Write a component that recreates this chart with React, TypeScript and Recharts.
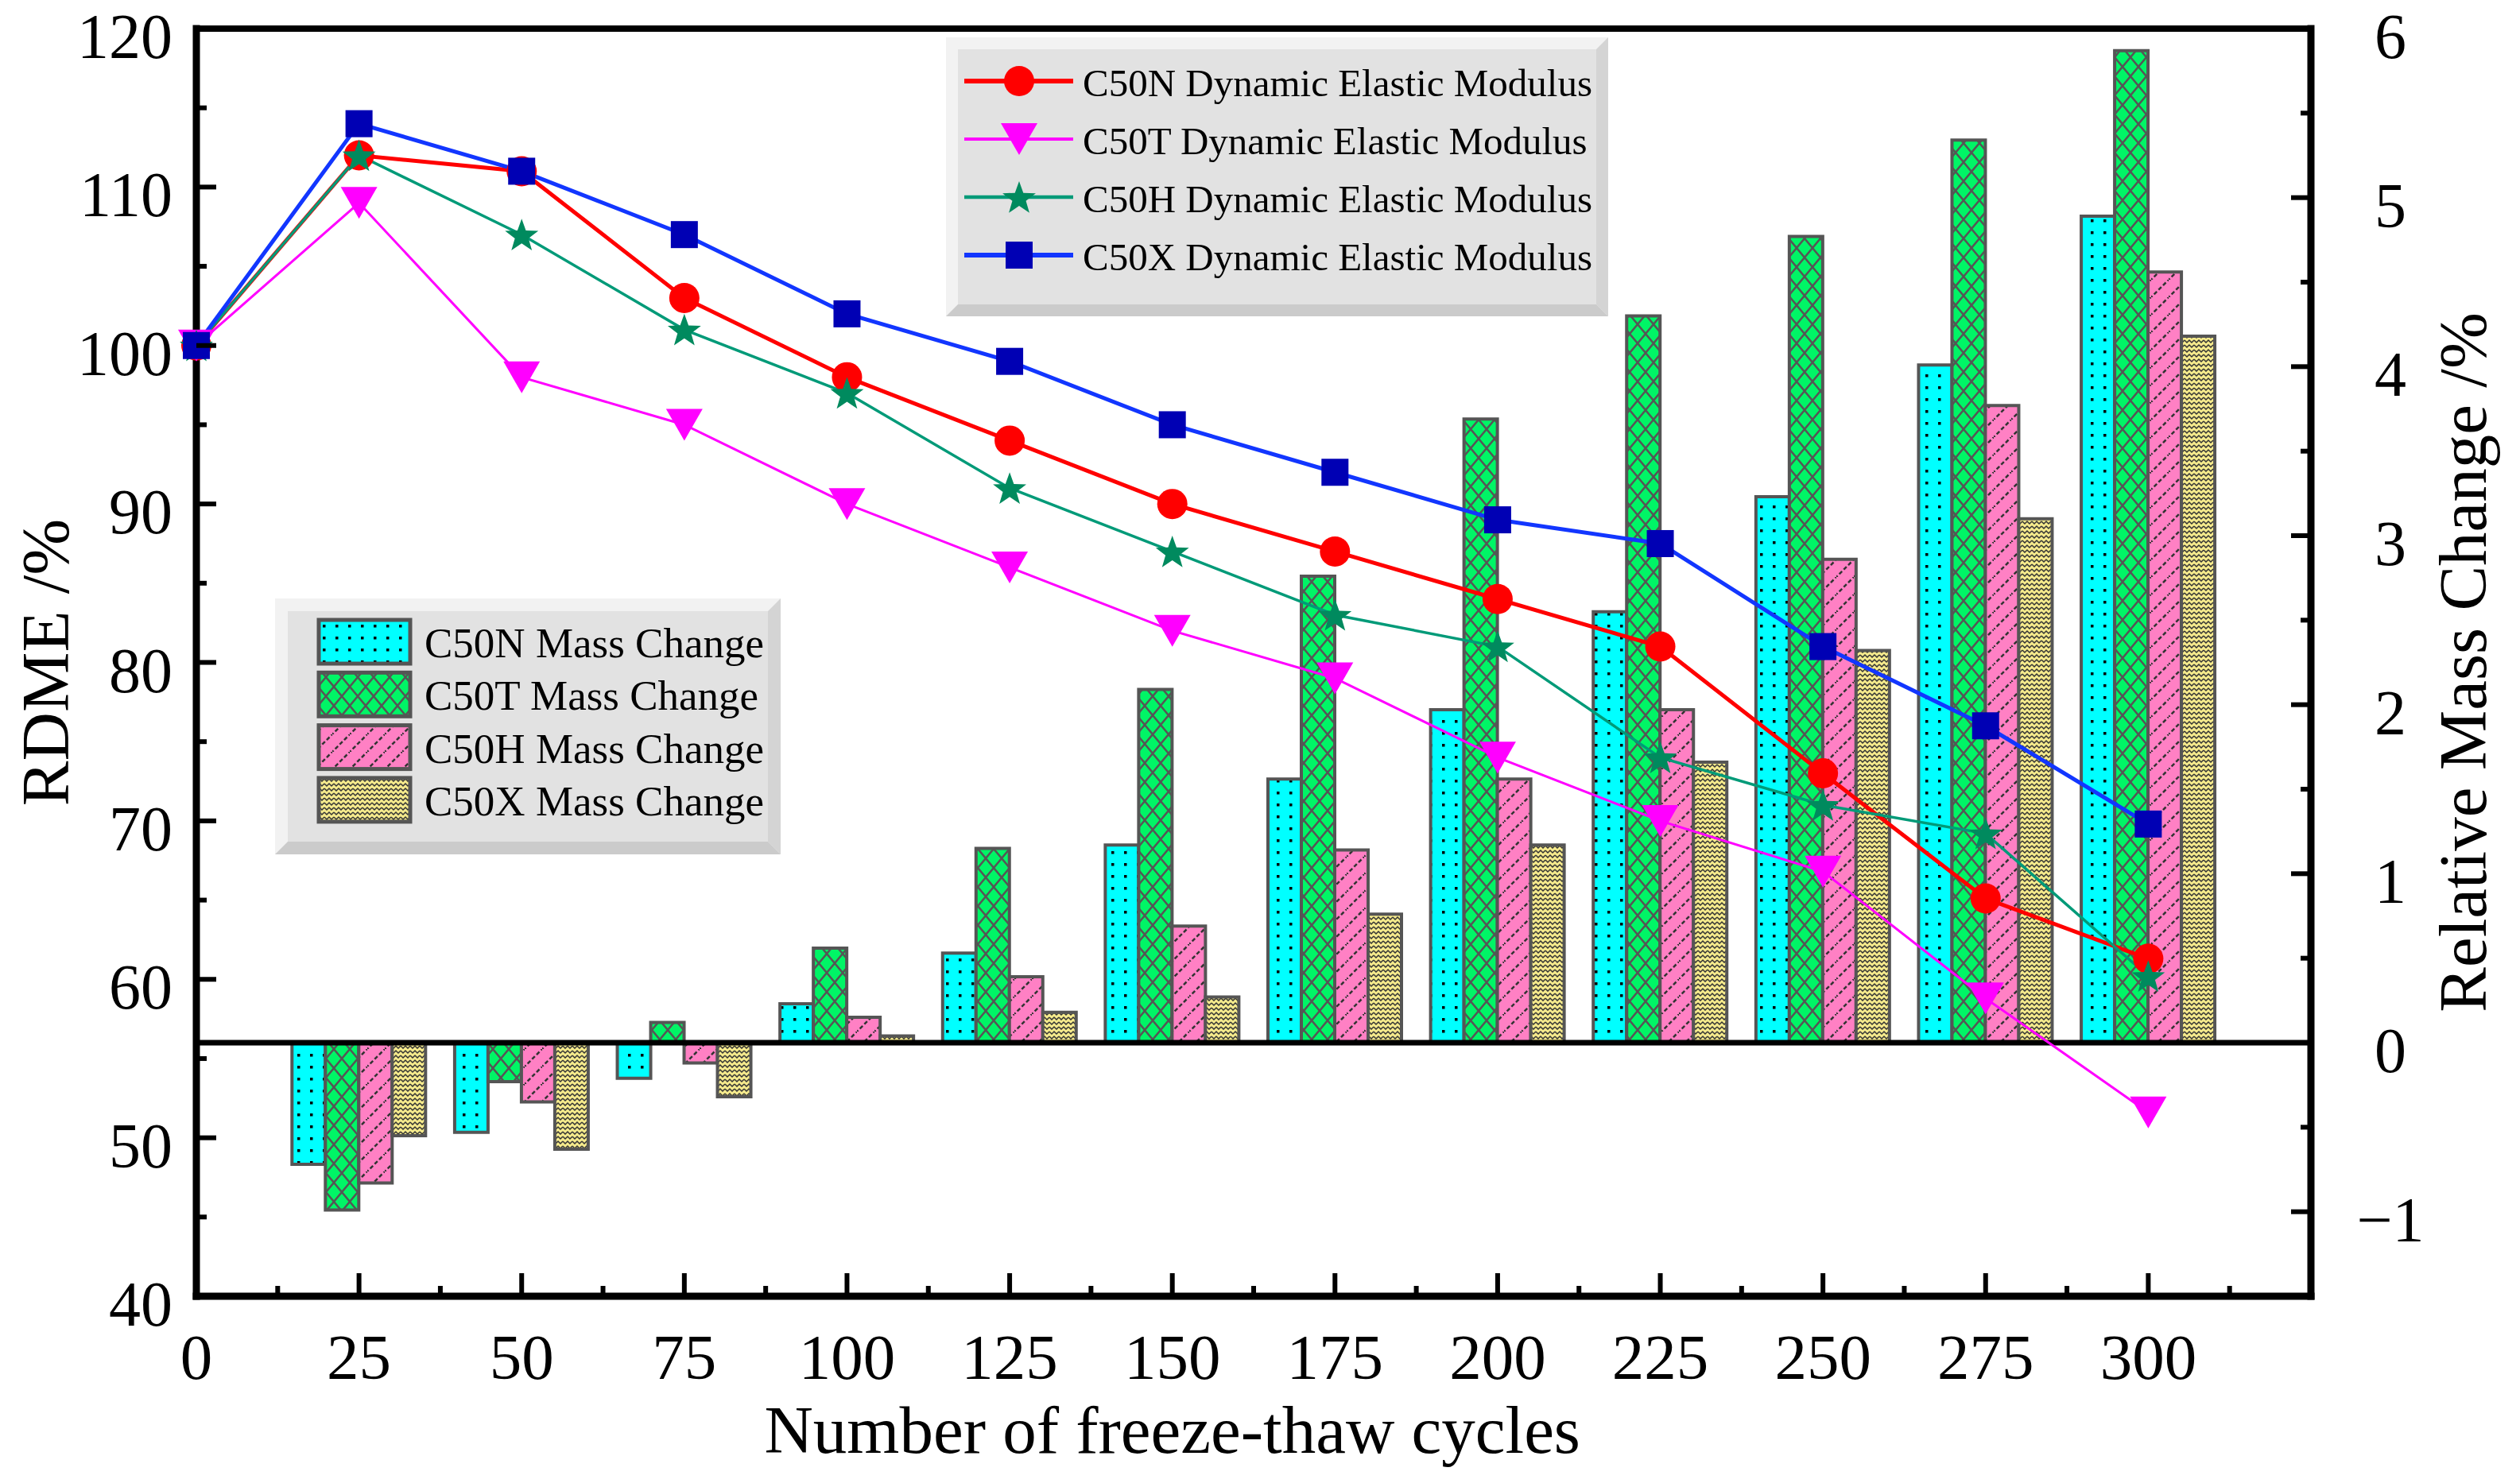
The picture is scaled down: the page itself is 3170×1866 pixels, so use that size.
import React from 'react';
import { ComposedChart, Bar, Line, XAxis, YAxis, ReferenceLine, Legend } from 'recharts';

const FONT = "'Liberation Serif', 'Times New Roman', Times, serif";
const W = 3170;
const H = 1866;

// freeze-thaw cycles
const cycles = [0, 25, 50, 75, 100, 125, 150, 175, 200, 225, 250, 275, 300];

// relative dynamic elastic modulus, % (left axis)
const rdmeC50N = [100, 112, 111, 103, 98, 94, 90, 87, 84, 81, 73, 65.1, 61.3];
const rdmeC50T = [100, 109, 98, 95, 90, 86, 82, 79, 74, 70, 66.8, 58.8, 51.6];
const rdmeC50H = [100, 112, 107, 101, 97, 91, 87, 83, 81, 74, 71, 69.2, 60.2];
const rdmeC50X = [100, 114, 111, 107, 102, 99, 95, 92, 89, 87.5, 81, 76, 69.8];

// relative mass change, % (right axis)
const massC50N = [null, -0.72, -0.53, -0.21, 0.23, 0.53, 1.17, 1.56, 1.97, 2.55, 3.23, 4.01, 4.89];
const massC50T = [null, -0.99, -0.23, 0.12, 0.56, 1.15, 2.09, 2.76, 3.69, 4.3, 4.77, 5.34, 5.87];
const massC50H = [null, -0.83, -0.35, -0.12, 0.15, 0.39, 0.69, 1.14, 1.56, 1.97, 2.86, 3.77, 4.56];
const massC50X = [null, -0.55, -0.63, -0.32, 0.04, 0.18, 0.27, 0.76, 1.17, 1.66, 2.32, 3.1, 4.18];

// tick values (minor ticks between labelled ones)
const xTicks = [0, 12.5, 25, 37.5, 50, 62.5, 75, 87.5, 100, 112.5, 125, 137.5, 150, 162.5, 175, 187.5, 200, 212.5, 225, 237.5, 250, 262.5, 275, 287.5, 300, 312.5];
const leftTicks = [40, 45, 50, 55, 60, 65, 70, 75, 80, 85, 90, 95, 100, 105, 110, 115, 120];
const rightTicks = [-1.5, -1, -0.5, 0, 0.5, 1, 1.5, 2, 2.5, 3, 3.5, 4, 4.5, 5, 5.5, 6];

const rows = cycles.map((c, i) => ({
  cycles: c,
  rdmeC50N: rdmeC50N[i],
  rdmeC50T: rdmeC50T[i],
  rdmeC50H: rdmeC50H[i],
  rdmeC50X: rdmeC50X[i],
  massC50N: massC50N[i],
  massC50T: massC50T[i],
  massC50H: massC50H[i],
  massC50X: massC50X[i],
}));

const lineSeries = [
  { key: 'rdmeC50N', name: 'C50N Dynamic Elastic Modulus', color: '#ff0000', width: 5, shape: 'circle' },
  { key: 'rdmeC50T', name: 'C50T Dynamic Elastic Modulus', color: '#ff00ff', width: 3, shape: 'triangle' },
  { key: 'rdmeC50H', name: 'C50H Dynamic Elastic Modulus', color: '#009a78', width: 3.5, shape: 'star' },
  { key: 'rdmeC50X', name: 'C50X Dynamic Elastic Modulus', color: '#1236ff', width: 5, shape: 'square' },
];

const barSeries = [
  { key: 'massC50N', name: 'C50N Mass Change', pattern: 'dots' },
  { key: 'massC50T', name: 'C50T Mass Change', pattern: 'cross' },
  { key: 'massC50H', name: 'C50H Mass Change', pattern: 'hatch' },
  { key: 'massC50X', name: 'C50X Mass Change', pattern: 'weave' },
];

const Patterns = ({ id }: { id: string }) => (
  <defs>
    <pattern id={`${id}-dots`} patternUnits="userSpaceOnUse" width={16} height={15}>
      <rect width={16} height={15} fill="#00ffff" />
      <rect x={6} y={6} width={3.5} height={3.5} fill="#000" />
    </pattern>
    <pattern id={`${id}-cross`} patternUnits="userSpaceOnUse" width={20} height={24}>
      <rect width={20} height={24} fill="#00f566" />
      <path d="M0,0L20,24M20,0L0,24" stroke="#555" strokeWidth={2.5} />
    </pattern>
    <pattern id={`${id}-hatch`} patternUnits="userSpaceOnUse" width={22} height={22}>
      <rect width={22} height={22} fill="#ff80c4" />
      <path d="M-2,24L24,-2" stroke="#333" strokeWidth={2.5} strokeDasharray="5 3" />
    </pattern>
    <pattern id={`${id}-weave`} patternUnits="userSpaceOnUse" width={12} height={12}>
      <rect width={12} height={12} fill="#f5ea8c" />
      <path d="M0,2L3,5L6,2L9,5L12,2M0,8L3,11L6,8L9,11L12,8" stroke="#333" strokeWidth={1.5} fill="none" />
    </pattern>
  </defs>
);

const starPoints = (cx: number, cy: number, R: number, r: number) => {
  const pts: string[] = [];
  for (let i = 0; i < 10; i++) {
    const rad = i % 2 === 0 ? R : r;
    const a = -Math.PI / 2 + (i * Math.PI) / 5;
    pts.push(`${cx + rad * Math.cos(a)},${cy + rad * Math.sin(a)}`);
  }
  return pts.join(' ');
};

const Marker = ({ shape, cx, cy }: any) => {
  if (shape === 'circle') return <circle cx={cx} cy={cy} r={19} fill="#ff0000" />;
  if (shape === 'triangle')
    return <polygon points={`${cx - 23},${cy - 20} ${cx + 23},${cy - 20} ${cx},${cy + 20}`} fill="#ff00ff" />;
  if (shape === 'star') return <polygon points={starPoints(cx, cy + 2, 22, 9)} fill="#008a5e" />;
  return <rect x={cx - 17} y={cy - 17} width={34} height={34} fill="#0000b4" />;
};

const renderDot = (shape: string) => (props: any) => {
  const { cx, cy, index } = props;
  if (cx == null || cy == null) return <g key={`${shape}-${index}`} />;
  return <Marker key={`${shape}-${index}`} shape={shape} cx={cx} cy={cy} />;
};

const XTick = ({ x, y, payload }: any) => {
  const v = payload.value;
  const major = v % 25 === 0;
  return (
    <g>
      <line x1={x} x2={x} y1={y} y2={y - (major ? 29 : 13)} stroke="#000" strokeWidth={6} />
      {major && (
        <text x={x} y={y + 104} textAnchor="middle" fontSize={81} fontFamily={FONT} fill="#000">
          {v}
        </text>
      )}
    </g>
  );
};

const LeftTick = ({ x, y, payload }: any) => {
  const v = payload.value;
  const major = v % 10 === 0;
  return (
    <g>
      <line x1={x} x2={x + (major ? 25 : 13)} y1={y} y2={y} stroke="#000" strokeWidth={6} />
      {major && (
        <text x={x - 30} y={y + 37} textAnchor="end" fontSize={80} fontFamily={FONT} fill="#000">
          {v}
        </text>
      )}
    </g>
  );
};

const RightTick = ({ x, y, payload }: any) => {
  const v = payload.value;
  const major = Number.isInteger(v);
  return (
    <g>
      <line x1={x} x2={x - (major ? 25 : 13)} y1={y} y2={y} stroke="#000" strokeWidth={6} />
      {major && v >= -1 && (
        <text x={x + 100} y={y + 37} textAnchor="middle" fontSize={80} fontFamily={FONT} fill="#000">
          {v < 0 ? `\u2212${Math.abs(v)}` : v}
        </text>
      )}
    </g>
  );
};

const leftTitle = (props: any) => {
  const vb = props.viewBox;
  const cx = vb.x + vb.width - 190;
  const cy = vb.y + vb.height / 2;
  return (
    <text x={cx} y={cy} transform={`rotate(-90 ${cx} ${cy})`} textAnchor="middle" dominantBaseline="central" fontSize={85} fontFamily={FONT} fill="#000">
      RDME /%
    </text>
  );
};

const rightTitle = (props: any) => {
  const vb = props.viewBox;
  const cx = vb.x + 191;
  const cy = vb.y + vb.height / 2;
  return (
    <text x={cx} y={cy} transform={`rotate(-90 ${cx} ${cy})`} textAnchor="middle" dominantBaseline="central" fontSize={85} fontFamily={FONT} fill="#000">
      Relative Mass Change /%
    </text>
  );
};

const bottomTitle = (props: any) => {
  const vb = props.viewBox;
  return (
    <text x={vb.x + (vb.width * 150) / 325} y={vb.y + 197} textAnchor="middle" fontSize={85} fontFamily={FONT} fill="#000">
      Number of freeze-thaw cycles
    </text>
  );
};

const BevelBox = ({ x, y, w, h, inset }: any) => {
  const ix = x + inset;
  const iy = y + inset;
  const iw = w - 2 * inset;
  const ih = h - 2 * inset;
  return (
    <g>
      <rect x={x} y={y} width={w} height={h} fill="#f2f2f2" />
      <polygon points={`${x + w},${y} ${x + w},${y + h} ${ix + iw},${iy + ih} ${ix + iw},${iy}`} fill="#d4d4d4" />
      <polygon points={`${x},${y + h} ${x + w},${y + h} ${ix + iw},${iy + ih} ${ix},${iy + ih}`} fill="#cbcbcb" />
      <rect x={ix} y={iy} width={iw} height={ih} fill="#e2e2e2" />
    </g>
  );
};

const LegendLayer = () => (
  <svg width={W} height={H} style={{ position: 'absolute', left: 0, top: 0 }}>
    <Patterns id="lg" />
    <BevelBox x={1190} y={47} w={833} h={351} inset={15} />
    {lineSeries.map((s, i) => {
      const cy = 102 + i * 73;
      return (
        <g key={s.key}>
          <line x1={1213} x2={1350} y1={cy} y2={cy} stroke={s.color} strokeWidth={s.width + 1} />
          <Marker shape={s.shape} cx={1282} cy={cy} />
          <text x={1362} y={cy + 19} fontSize={49} fontFamily={FONT} fill="#000">
            {s.name}
          </text>
        </g>
      );
    })}
    <BevelBox x={346} y={753} w={636} h={322} inset={16} />
    {barSeries.map((s, i) => {
      const top = 778 + i * 66.3;
      return (
        <g key={s.key}>
          <rect x={401} y={top + 2} width={115} height={55} fill={`url(#lg-${s.pattern})`} stroke="#555" strokeWidth={5} />
          <text x={534} y={top + 49} fontSize={53} fontFamily={FONT} fill="#000">
            {s.name}
          </text>
        </g>
      );
    })}
  </svg>
);

export default function App() {
  return (
    <div style={{ position: 'absolute', left: 0, top: 0, width: W, height: H, background: '#fff' }}>
      <ComposedChart
        width={W}
        height={H}
        data={rows}
        margin={{ top: 36, right: 163, bottom: 135, left: 147 }}
        barGap={0}
      >
        <Patterns id="pt" />
        <XAxis
          dataKey="cycles"
          type="number"
          domain={[0, 325]}
          ticks={xTicks}
          interval={0}
          height={100}
          tickSize={0}
          tickMargin={0}
          tickLine={false}
          tick={<XTick />}
          axisLine={{ stroke: '#000', strokeWidth: 9, strokeLinecap: 'square' }}
          label={bottomTitle}
        />
        <YAxis
          yAxisId="left"
          domain={[40, 120]}
          ticks={leftTicks}
          interval={0}
          width={100}
          tickSize={0}
          tickMargin={0}
          tickLine={false}
          tick={<LeftTick />}
          axisLine={{ stroke: '#000', strokeWidth: 9, strokeLinecap: 'square' }}
          label={leftTitle}
          allowDataOverflow
        />
        <YAxis
          yAxisId="right"
          orientation="right"
          domain={[-1.5, 6]}
          ticks={rightTicks}
          interval={0}
          width={100}
          tickSize={0}
          tickMargin={0}
          tickLine={false}
          tick={<RightTick />}
          axisLine={{ stroke: '#000', strokeWidth: 9, strokeLinecap: 'square' }}
          label={rightTitle}
          allowDataOverflow
        />
        {barSeries.map((s) => (
          <Bar
            key={s.key}
            yAxisId="right"
            dataKey={s.key}
            name={s.name}
            barSize={42}
            fill={`url(#pt-${s.pattern})`}
            stroke="#555"
            strokeWidth={4}
            isAnimationActive={false}
          />
        ))}
        <ReferenceLine yAxisId="right" y={0} stroke="#000" strokeWidth={7} />
        <ReferenceLine yAxisId="left" y={120} stroke="#000" strokeWidth={8} strokeLinecap="square" />
        {lineSeries.map((s) => (
          <Line
            key={s.key}
            yAxisId="left"
            type="linear"
            dataKey={s.key}
            name={s.name}
            stroke={s.color}
            strokeWidth={s.width}
            dot={renderDot(s.shape)}
            activeDot={false}
            isAnimationActive={false}
          />
        ))}
        <Legend
          layout="vertical"
          align="center"
          verticalAlign="middle"
          content={LegendLayer}
          wrapperStyle={{ left: 0, top: 0, width: W, height: H, pointerEvents: 'none' }}
        />
      </ComposedChart>
    </div>
  );
}
